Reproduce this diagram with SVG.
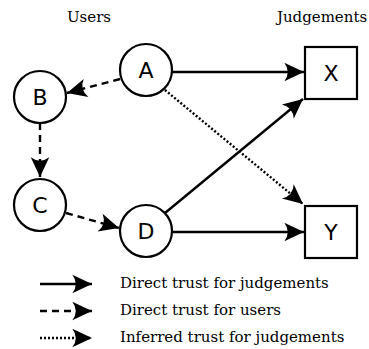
<svg xmlns="http://www.w3.org/2000/svg" width="369" height="349" viewBox="0 0 369 349">
<defs>
<marker id="ah" markerUnits="userSpaceOnUse" markerWidth="22" markerHeight="22" viewBox="-18 -9 19 18" refX="0" refY="0" orient="auto">
<path d="M0,0 L-17,-8 Q-11,0 -17,8 Z" fill="#000"/>
</marker>
</defs>
<style>
.lbl{font-family:"DejaVu Serif",serif;font-size:15px;fill:#000}
.nt{font-family:"DejaVu Sans",sans-serif;font-size:22px;fill:#000;text-anchor:middle}
.node{fill:#fff;stroke:#000;stroke-width:2.2}
.e{fill:none;stroke:#000;stroke-width:2.4;marker-end:url(#ah)}
.dash{stroke-dasharray:7,5}
.dot{stroke-dasharray:2,2}
</style>
<rect width="369" height="349" fill="#fff"/>
<text class="lbl" x="89" y="22" text-anchor="middle">Users</text>
<text class="lbl" x="322" y="22" text-anchor="middle">Judgements</text>
<g id="connectors">
<line class="e" x1="172" y1="72" x2="304" y2="72"/>
<line class="e dash" x1="120" y1="79" x2="67" y2="93"/>
<line class="e dash" x1="40" y1="123" x2="40" y2="177"/>
<line class="e dash" x1="66" y1="213" x2="119" y2="228"/>
<line class="e" x1="165" y1="213" x2="303" y2="99"/>
<line class="e" x1="173" y1="232" x2="304" y2="232"/>
<line class="e dot" x1="165" y1="90" x2="303" y2="204"/>
</g>
<g id="A"><circle class="node" cx="146" cy="70" r="26"/><text class="nt" x="146" y="78">A</text></g>
<g id="B"><circle class="node" cx="40" cy="97" r="26"/><text class="nt" x="40" y="105">B</text></g>
<g id="C"><circle class="node" cx="40" cy="205" r="26"/><text class="nt" x="40" y="213">C</text></g>
<g id="D"><circle class="node" cx="146" cy="231" r="26"/><text class="nt" x="146" y="239">D</text></g>
<g id="X"><rect class="node" x="305" y="47" width="52" height="52"/><text class="nt" x="331" y="81">X</text></g>
<g id="Y"><rect class="node" x="305" y="206" width="52" height="52"/><text class="nt" x="331" y="240">Y</text></g>
<g id="legend">
<line class="e" x1="40" y1="284" x2="92" y2="284"/>
<line class="e dash" x1="40" y1="311" x2="92" y2="311"/>
<line class="e dot" x1="40" y1="338" x2="92" y2="338"/>
<text class="lbl" x="120" y="288">Direct trust for judgements</text>
<text class="lbl" x="120" y="315">Direct trust for users</text>
<text class="lbl" x="120" y="342">Inferred trust for judgements</text>
</g>
</svg>
